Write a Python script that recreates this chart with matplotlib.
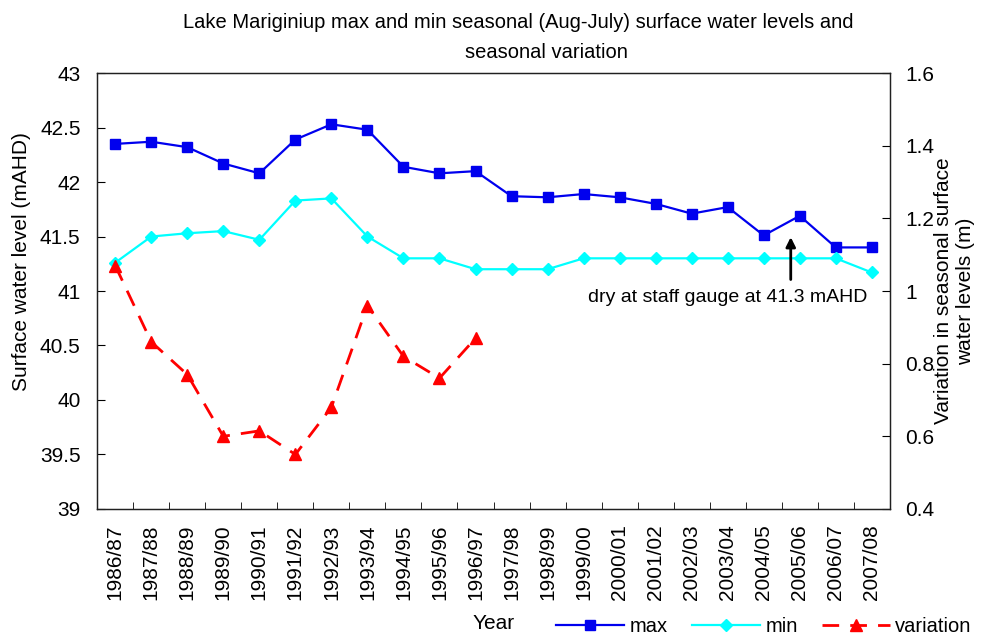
import matplotlib.pyplot as plt
from matplotlib.ticker import FixedLocator, FuncFormatter

plt.rcParams['font.family'] = ['Liberation Sans', 'DejaVu Sans']

years = ["1986/87", "1987/88", "1988/89", "1989/90", "1990/91", "1991/92", "1992/93",
         "1993/94", "1994/95", "1995/96", "1996/97", "1997/98", "1998/99", "1999/00",
         "2000/01", "2001/02", "2002/03", "2003/04", "2004/05", "2005/06", "2006/07",
         "2007/08"]
max_level = [42.35, 42.37, 42.32, 42.17, 42.08, 42.39, 42.53, 42.48, 42.14, 42.08, 42.10,
             41.87, 41.86, 41.89, 41.86, 41.80, 41.71, 41.77, 41.51, 41.69, 41.40, 41.40]
min_level = [41.26, 41.50, 41.53, 41.55, 41.47, 41.83, 41.85, 41.50, 41.30, 41.30, 41.20,
             41.20, 41.20, 41.30, 41.30, 41.30, 41.30, 41.30, 41.30, 41.30, 41.30, 41.17]
variation = [1.07, 0.86, 0.77, 0.60, 0.615, 0.55, 0.68, 0.96, 0.82, 0.76, 0.87]

x = list(range(len(years)))
fs = 15

fig = plt.figure(figsize=(9.92, 6.41), dpi=100)
ax = fig.add_axes([0.098, 0.206, 0.799, 0.680])
ax2 = ax.twinx()

l1, = ax.plot(x, max_level, color='#0000EE', lw=1.6, marker='s', ms=6.5, label='max')
l2, = ax.plot(x, min_level, color='#00FFFF', lw=1.6, marker='D', ms=6, label='min')
l3, = ax2.plot(x[:len(variation)], variation, color='#FF0000', lw=2.0, ls=(0, (6, 4)),
               marker='^', ms=8, label='variation')

ax.set_xlim(-0.5, len(years) - 0.5)
ax.set_ylim(39, 43)
ax2.set_ylim(0.4, 1.6)

ax.set_xticks(x)
ax.set_xticklabels(years, rotation=90, fontsize=fs)
ax.xaxis.set_minor_locator(FixedLocator([i + 0.5 for i in range(-1, len(years))]))
ax.tick_params(axis='x', which='major', length=0, pad=11)
ax.tick_params(axis='x', which='minor', length=5, direction='in')

ax.set_yticks([39 + 0.5 * i for i in range(9)])
ax.yaxis.set_major_formatter(FuncFormatter(lambda v, p: f"{v:g}"))
ax.tick_params(axis='y', direction='in', length=6, labelsize=fs, pad=12)
ax2.set_yticks([0.4 + 0.2 * i for i in range(7)])
ax2.yaxis.set_major_formatter(FuncFormatter(lambda v, p: f"{round(v, 1):g}"))
ax2.tick_params(axis='y', direction='in', length=6, labelsize=fs, pad=11)

for a in (ax, ax2):
    for s in a.spines.values():
        s.set_color('#202020')
        s.set_linewidth(0.9)

ax.set_ylabel("Surface water level (mAHD)", fontsize=fs)
ax.yaxis.set_label_coords(-0.083, 0.567)
ax2.set_ylabel("Variation in seasonal surface\nwater levels (m)", fontsize=fs, labelpad=0)
ax.set_xlabel("Year", fontsize=fs)
ax.xaxis.set_label_coords(0.5, -0.24)

fig.text(518 / 992, 1 - 22 / 641,
         "Lake Mariginiup max and min seasonal (Aug-July) surface water levels and",
         ha='center', va='center', fontsize=14.5)
fig.text(546 / 992, 1 - 53 / 641, "seasonal variation",
         ha='center', va='center', fontsize=14.5)

ax.annotate("", xy=(18.75, 41.52), xytext=(18.75, 41.08),
            arrowprops=dict(arrowstyle='-|>', color='black', lw=2, mutation_scale=14))
ax.text(17.0, 40.94, "dry at staff gauge at 41.3 mAHD", ha='center', va='center',
        fontsize=14)

fig.legend(handles=[l1, l2, l3], loc='center left', bbox_to_anchor=(556 / 992, 1 - 627 / 641),
           ncol=3, frameon=False, fontsize=14.5, handlelength=3.4, columnspacing=1.2,
           handletextpad=0.25, borderpad=0, borderaxespad=0)

fig.savefig("out.png", dpi=100)
